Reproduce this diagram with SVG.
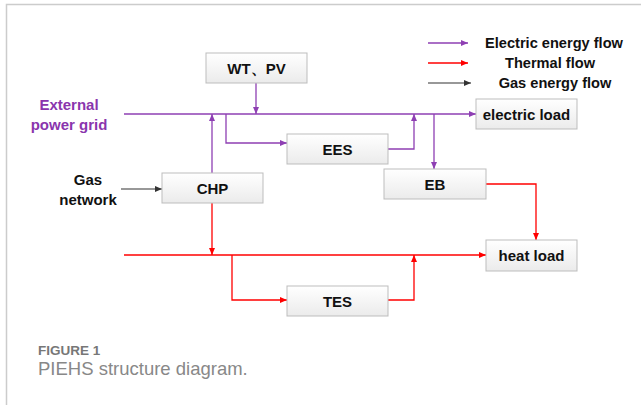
<svg xmlns="http://www.w3.org/2000/svg" width="641" height="405" viewBox="0 0 641 405">
<defs>
<linearGradient id="g" x1="0" y1="0" x2="0" y2="1"><stop offset="0" stop-color="#ffffff"/><stop offset="1" stop-color="#ebebeb"/></linearGradient>
<marker id="ap" markerWidth="7" markerHeight="6" refX="7" refY="3" orient="auto" markerUnits="userSpaceOnUse"><path d="M0,0 L7,3 L0,6 Z" fill="#8e3fb3"/></marker>
<marker id="ar" markerWidth="7" markerHeight="6" refX="7" refY="3" orient="auto" markerUnits="userSpaceOnUse"><path d="M0,0 L7,3 L0,6 Z" fill="#ff0000"/></marker>
<marker id="ak" markerWidth="7" markerHeight="6" refX="7" refY="3" orient="auto" markerUnits="userSpaceOnUse"><path d="M0,0 L7,3 L0,6 Z" fill="#333333"/></marker>
<style>
.box{fill:url(#g);stroke:#bdbdbd;stroke-width:1}
.t{font-family:"Liberation Sans",Arial,sans-serif;font-weight:bold;font-size:15px;fill:#111;text-anchor:middle;dominant-baseline:central}
.l{font-size:14.6px}
.p{fill:none;stroke:#8e3fb3;stroke-width:1.3;marker-end:url(#ap)}
.r{fill:none;stroke:#ff0000;stroke-width:1.3;marker-end:url(#ar)}
.k{fill:none;stroke:#333333;stroke-width:1.1;marker-end:url(#ak)}
.cap{font-family:"Liberation Sans",Arial,sans-serif}
</style>
</defs>
<rect x="0" y="0" width="641" height="405" fill="#ffffff"/>
<path d="M6.5,420 V4.5 H650" fill="none" stroke="#cccccc" stroke-width="1.5"/>

<g id="legend">
<line x1="428" y1="43" x2="468" y2="43" class="p"/>
<line x1="428" y1="63" x2="468" y2="63" class="r"/>
<line x1="428" y1="83" x2="471" y2="83" class="k"/>
<text x="554" y="43" class="t l">Electric energy flow</text>
<text x="550" y="63" class="t l">Thermal flow</text>
<text x="555" y="83" class="t l">Gas energy flow</text>
</g>

<g id="connectors">
<line x1="124" y1="114" x2="476" y2="114" class="p"/>
<line x1="256" y1="83" x2="256" y2="114" class="p"/>
<line x1="212" y1="173" x2="212" y2="114" class="p"/>
<polyline points="226,114 226,143 287,143" class="p"/>
<polyline points="388,149 414,149 414,114" class="p"/>
<line x1="434" y1="114" x2="434" y2="169" class="p"/>
<line x1="121" y1="189" x2="162" y2="189" class="k"/>
<line x1="124" y1="255" x2="486" y2="255" class="r"/>
<line x1="212" y1="203" x2="212" y2="255" class="r"/>
<polyline points="232,255 232,300 287,300" class="r"/>
<polyline points="388,300 414,300 414,255" class="r"/>
<polyline points="486,184 536,184 536,240" class="r"/>
</g>

<g id="wtpv"><rect x="206" y="53" width="101" height="30" class="box"/><text x="256.5" y="68" class="t">WT、PV</text></g>
<g id="chp"><rect x="162" y="173" width="101" height="30" class="box"/><text x="212.5" y="188" class="t">CHP</text></g>
<g id="ees"><rect x="287" y="134" width="101" height="30" class="box"/><text x="337.5" y="149" class="t">EES</text></g>
<g id="eb"><rect x="384" y="169" width="102" height="30" class="box"/><text x="435" y="184" class="t">EB</text></g>
<g id="eload"><rect x="476" y="99" width="101" height="30" class="box"/><text x="526.5" y="114" class="t">electric load</text></g>
<g id="hload"><rect x="486" y="240" width="91" height="31" class="box"/><text x="531.5" y="255.5" class="t">heat load</text></g>
<g id="tes"><rect x="287" y="286" width="101" height="30" class="box"/><text x="337.5" y="301" class="t">TES</text></g>

<g id="grid"><text x="69" y="104" class="t" style="fill:#8a35ad">External</text><text x="69" y="124" class="t" style="fill:#8a35ad">power grid</text></g>
<g id="gas"><text x="88" y="179" class="t">Gas</text><text x="88" y="199" class="t">network</text></g>

<text x="38" y="354.5" class="cap" font-weight="bold" font-size="13.5" fill="#777777">FIGURE 1</text>
<text x="38" y="374.5" class="cap" font-size="18.5" fill="#888888">PIEHS structure diagram.</text>
</svg>
